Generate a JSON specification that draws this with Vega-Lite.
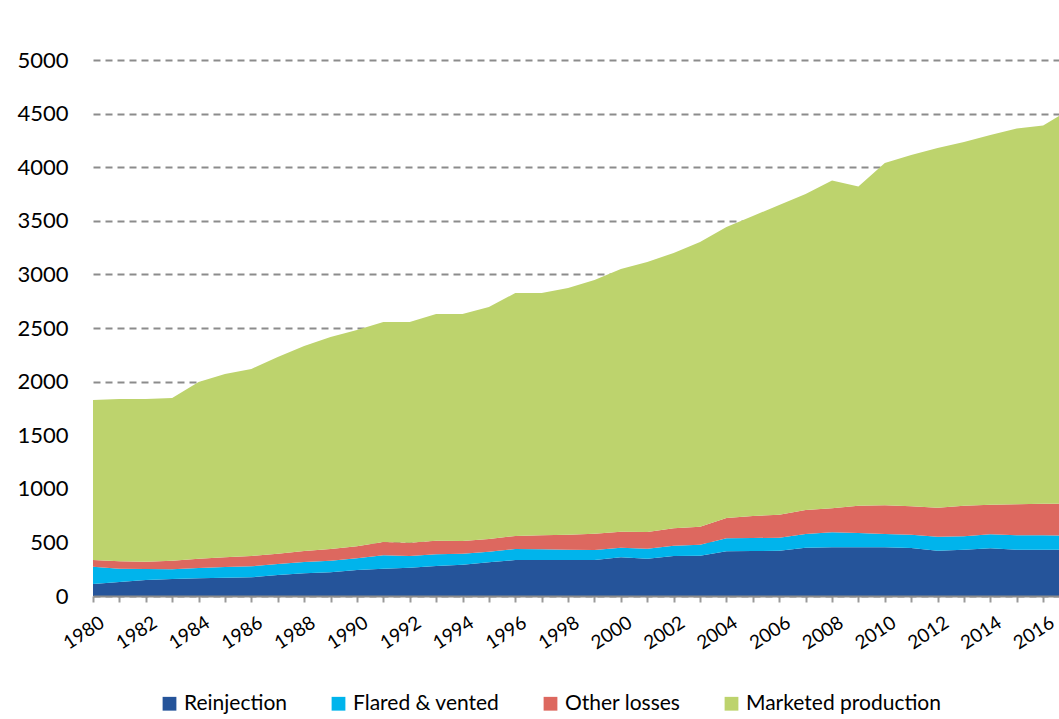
{
  "$schema": "https://vega.github.io/schema/vega-lite/v6.json",
  "width": 966,
  "height": 536,
  "autosize": "none",
  "padding": {"left": 93, "top": 60, "right": 0, "bottom": 123},
  "background": "white",
  "config": {
    "font": "Lato",
    "view": {"stroke": null}
  },
  "data": {
    "values": [
      {"year":1980,"series":"Reinjection","value":112},{"year":1980,"series":"Flared & vented","value":162},{"year":1980,"series":"Other losses","value":62},{"year":1980,"series":"Marketed production","value":1492},
      {"year":1981,"series":"Reinjection","value":130},{"year":1981,"series":"Flared & vented","value":125},{"year":1981,"series":"Other losses","value":68},{"year":1981,"series":"Marketed production","value":1515},
      {"year":1982,"series":"Reinjection","value":149},{"year":1982,"series":"Flared & vented","value":103},{"year":1982,"series":"Other losses","value":68},{"year":1982,"series":"Marketed production","value":1518},
      {"year":1983,"series":"Reinjection","value":158},{"year":1983,"series":"Flared & vented","value":91},{"year":1983,"series":"Other losses","value":80},{"year":1983,"series":"Marketed production","value":1518},
      {"year":1984,"series":"Reinjection","value":165},{"year":1984,"series":"Flared & vented","value":96},{"year":1984,"series":"Other losses","value":87},{"year":1984,"series":"Marketed production","value":1648},
      {"year":1985,"series":"Reinjection","value":171},{"year":1985,"series":"Flared & vented","value":99},{"year":1985,"series":"Other losses","value":91},{"year":1985,"series":"Marketed production","value":1709},
      {"year":1986,"series":"Reinjection","value":174},{"year":1986,"series":"Flared & vented","value":103},{"year":1986,"series":"Other losses","value":96},{"year":1986,"series":"Marketed production","value":1745},
      {"year":1987,"series":"Reinjection","value":196},{"year":1987,"series":"Flared & vented","value":102},{"year":1987,"series":"Other losses","value":97},{"year":1987,"series":"Marketed production","value":1835},
      {"year":1988,"series":"Reinjection","value":212},{"year":1988,"series":"Flared & vented","value":105},{"year":1988,"series":"Other losses","value":103},{"year":1988,"series":"Marketed production","value":1912},
      {"year":1989,"series":"Reinjection","value":221},{"year":1989,"series":"Flared & vented","value":108},{"year":1989,"series":"Other losses","value":109},{"year":1989,"series":"Marketed production","value":1978},
      {"year":1990,"series":"Reinjection","value":243},{"year":1990,"series":"Flared & vented","value":108},{"year":1990,"series":"Other losses","value":112},{"year":1990,"series":"Marketed production","value":2018},
      {"year":1991,"series":"Reinjection","value":255},{"year":1991,"series":"Flared & vented","value":125},{"year":1991,"series":"Other losses","value":124},{"year":1991,"series":"Marketed production","value":2052},
      {"year":1992,"series":"Reinjection","value":264},{"year":1992,"series":"Flared & vented","value":109},{"year":1992,"series":"Other losses","value":124},{"year":1992,"series":"Marketed production","value":2059},
      {"year":1993,"series":"Reinjection","value":280},{"year":1993,"series":"Flared & vented","value":109},{"year":1993,"series":"Other losses","value":127},{"year":1993,"series":"Marketed production","value":2115},
      {"year":1994,"series":"Reinjection","value":292},{"year":1994,"series":"Flared & vented","value":103},{"year":1994,"series":"Other losses","value":118},{"year":1994,"series":"Marketed production","value":2118},
      {"year":1995,"series":"Reinjection","value":314},{"year":1995,"series":"Flared & vented","value":99},{"year":1995,"series":"Other losses","value":119},{"year":1995,"series":"Marketed production","value":2164},
      {"year":1996,"series":"Reinjection","value":336},{"year":1996,"series":"Flared & vented","value":102},{"year":1996,"series":"Other losses","value":122},{"year":1996,"series":"Marketed production","value":2266},
      {"year":1997,"series":"Reinjection","value":336},{"year":1997,"series":"Flared & vented","value":99},{"year":1997,"series":"Other losses","value":131},{"year":1997,"series":"Marketed production","value":2260},
      {"year":1998,"series":"Reinjection","value":336},{"year":1998,"series":"Flared & vented","value":96},{"year":1998,"series":"Other losses","value":140},{"year":1998,"series":"Marketed production","value":2301},
      {"year":1999,"series":"Reinjection","value":336},{"year":1999,"series":"Flared & vented","value":93},{"year":1999,"series":"Other losses","value":152},{"year":1999,"series":"Marketed production","value":2367},
      {"year":2000,"series":"Reinjection","value":361},{"year":2000,"series":"Flared & vented","value":90},{"year":2000,"series":"Other losses","value":149},{"year":2000,"series":"Marketed production","value":2450},
      {"year":2001,"series":"Reinjection","value":348},{"year":2001,"series":"Flared & vented","value":93},{"year":2001,"series":"Other losses","value":156},{"year":2001,"series":"Marketed production","value":2519},
      {"year":2002,"series":"Reinjection","value":373},{"year":2002,"series":"Flared & vented","value":96},{"year":2002,"series":"Other losses","value":162},{"year":2002,"series":"Marketed production","value":2569},
      {"year":2003,"series":"Reinjection","value":376},{"year":2003,"series":"Flared & vented","value":103},{"year":2003,"series":"Other losses","value":168},{"year":2003,"series":"Marketed production","value":2655},
      {"year":2004,"series":"Reinjection","value":417},{"year":2004,"series":"Flared & vented","value":121},{"year":2004,"series":"Other losses","value":190},{"year":2004,"series":"Marketed production","value":2714},
      {"year":2005,"series":"Reinjection","value":420},{"year":2005,"series":"Flared & vented","value":121},{"year":2005,"series":"Other losses","value":205},{"year":2005,"series":"Marketed production","value":2799},
      {"year":2006,"series":"Reinjection","value":421},{"year":2006,"series":"Flared & vented","value":123},{"year":2006,"series":"Other losses","value":213},{"year":2006,"series":"Marketed production","value":2890},
      {"year":2007,"series":"Reinjection","value":451},{"year":2007,"series":"Flared & vented","value":127},{"year":2007,"series":"Other losses","value":224},{"year":2007,"series":"Marketed production","value":2948},
      {"year":2008,"series":"Reinjection","value":454},{"year":2008,"series":"Flared & vented","value":140},{"year":2008,"series":"Other losses","value":224},{"year":2008,"series":"Marketed production","value":3057},
      {"year":2009,"series":"Reinjection","value":454},{"year":2009,"series":"Flared & vented","value":134},{"year":2009,"series":"Other losses","value":254},{"year":2009,"series":"Marketed production","value":2978},
      {"year":2010,"series":"Reinjection","value":454},{"year":2010,"series":"Flared & vented","value":124},{"year":2010,"series":"Other losses","value":268},{"year":2010,"series":"Marketed production","value":3193},
      {"year":2011,"series":"Reinjection","value":448},{"year":2011,"series":"Flared & vented","value":124},{"year":2011,"series":"Other losses","value":265},{"year":2011,"series":"Marketed production","value":3277},
      {"year":2012,"series":"Reinjection","value":423},{"year":2012,"series":"Flared & vented","value":130},{"year":2012,"series":"Other losses","value":271},{"year":2012,"series":"Marketed production","value":3355},
      {"year":2013,"series":"Reinjection","value":432},{"year":2013,"series":"Flared & vented","value":125},{"year":2013,"series":"Other losses","value":285},{"year":2013,"series":"Marketed production","value":3393},
      {"year":2014,"series":"Reinjection","value":445},{"year":2014,"series":"Flared & vented","value":130},{"year":2014,"series":"Other losses","value":277},{"year":2014,"series":"Marketed production","value":3448},
      {"year":2015,"series":"Reinjection","value":432},{"year":2015,"series":"Flared & vented","value":134},{"year":2015,"series":"Other losses","value":289},{"year":2015,"series":"Marketed production","value":3507},
      {"year":2016,"series":"Reinjection","value":432},{"year":2016,"series":"Flared & vented","value":134},{"year":2016,"series":"Other losses","value":295},{"year":2016,"series":"Marketed production","value":3529},
      {"year":2017,"series":"Reinjection","value":432},{"year":2017,"series":"Flared & vented","value":130},{"year":2017,"series":"Other losses","value":299},{"year":2017,"series":"Marketed production","value":3674}
    ]
  },
  "transform": [
    {"calculate": "indexof(['Reinjection', 'Flared & vented', 'Other losses', 'Marketed production'], datum.series)", "as": "stackOrder"}
  ],
  "mark": {"type": "area", "clip": true, "interpolate": "linear"},
  "encoding": {
    "x": {
      "field": "year",
      "type": "quantitative",
      "scale": {"domain": [1980, 2016.6], "nice": false, "zero": false},
      "axis": {
        "title": null,
        "grid": false,
        "values": [1980,1981,1982,1983,1984,1985,1986,1987,1988,1989,1990,1991,1992,1993,1994,1995,1996,1997,1998,1999,2000,2001,2002,2003,2004,2005,2006,2007,2008,2009,2010,2011,2012,2013,2014,2015,2016],
        "labelExpr": "datum.value % 2 === 0 ? format(datum.value, 'd') : ''",
        "labelAngle": -33,
        "labelAlign": "right",
        "labelBaseline": "top",
        "labelFontSize": 19,
        "labelColor": "#000000",
        "labelPadding": 11,
        "labelOffset": 4,
        "labelOverlap": false,
        "labelFlush": false,
        "domainColor": "#8c8c8c",
        "domainWidth": 2,
        "tickColor": "#9a9a9a",
        "tickWidth": 2,
        "tickSize": 6,
        "zindex": 1
      }
    },
    "y": {
      "field": "value",
      "type": "quantitative",
      "stack": "zero",
      "scale": {"domain": [0, 5000], "nice": false},
      "axis": {
        "title": null,
        "values": [0,500,1000,1500,2000,2500,3000,3500,4000,4500,5000],
        "format": "d",
        "domain": false,
        "ticks": false,
        "labelPadding": 25,
        "labelFontSize": 22,
        "labelColor": "#000000",
        "gridColor": "#8c8c8c",
        "gridWidth": 2,
        "gridDash": [7, 5]
      }
    },
    "order": {"field": "stackOrder", "type": "quantitative", "sort": "ascending"},
    "color": {
      "field": "series",
      "type": "nominal",
      "sort": ["Reinjection", "Flared & vented", "Other losses", "Marketed production"],
      "scale": {
        "domain": ["Reinjection", "Flared & vented", "Other losses", "Marketed production"],
        "range": ["#25549A", "#00B4EC", "#DD685F", "#BDD36D"]
      },
      "legend": {
        "title": null,
        "orient": "none",
        "direction": "horizontal",
        "legendX": 66,
        "legendY": 633,
        "symbolType": "square",
        "symbolSize": 190,
        "symbolStrokeWidth": 0,
        "labelFontSize": 21,
        "labelLimit": 400,
        "labelColor": "#000000",
        "labelOffset": 4,
        "columnPadding": 40
      }
    }
  }
}
